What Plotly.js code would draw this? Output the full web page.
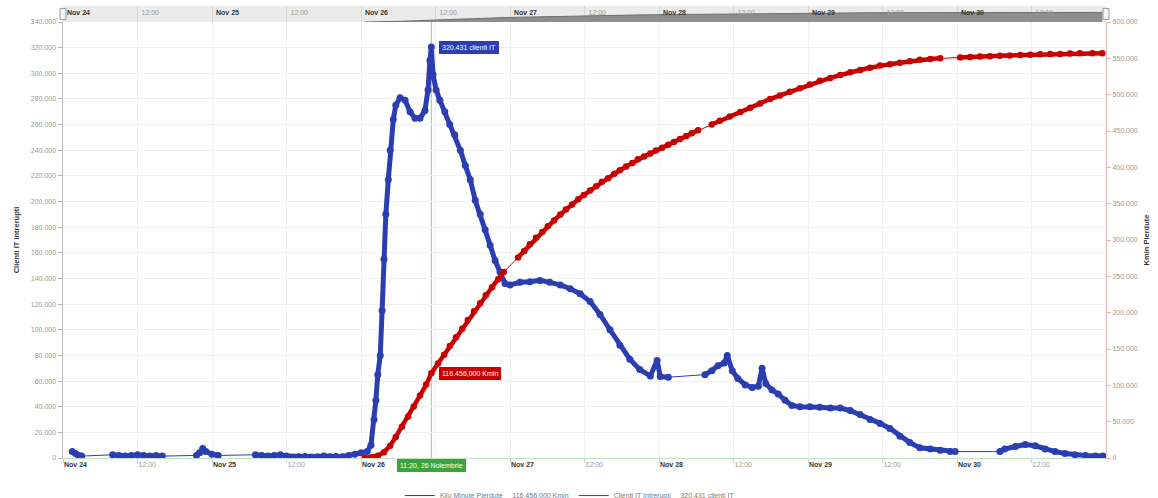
<!DOCTYPE html>
<html><head><meta charset="utf-8">
<script src="https://cdn.plot.ly/plotly-3.0.1.min.js"></script>
<style>html,body{margin:0;padding:0;background:#fff}#chart{width:1158px;height:498px}</style>
</head><body><div id="chart"></div>
<script>
// ---- data (hours from Nov 24 00:00) ----
const tickHours = [0,12,24,36,48,60,72,84,96,108,120,132,144,156];
const tickLabels = ["Nov 24","12:00","Nov 25","12:00","Nov 26","12:00","Nov 27","12:00","Nov 28","12:00","Nov 29","12:00","Nov 30","12:00"];

const clientsName = "Clienti IT întrerupti";
const clientsUnit = "clienti IT";
const kminName = "Kilo Minute Pierdute";
const kminUnit = "Kmin";
const kminAxisTitle = "Kmin Pierdute";
const monthName = "Noiembrie";

const clientsHours = [
 1.5,2,2.5,3,
 8,9,10,11,12,13,14,15,16,
 21.5,22,22.5,23,24,25,
 31,32,33,34,35,36,
 38,39,40,41,42,43,44,45,
 46,47,48,49,
 49.6,50.1,50.4,50.7,51.1,51.4,51.7,52.0,52.4,52.7,53.2,53.6,54.3,55.1,55.9,56.7,57.5,58.3,58.8,59.1,59.33,59.6,60.1,60.7,61.5,62.3,63.1,64.0,64.8,65.6,66.4,67.2,68.0,68.8,69.6,70.4,71.2,72.0,
 73.6,75.2,76.8,78.4,80.1,81.7,83.3,84.9,86.5,88.1,89.7,91.3,92.9,94.6,95.7,96.2,97.5,
 103.4,104.5,105.5,106.5,107.0,107.8,108.7,109.9,111.0,112.0,112.6,113.2,114.2,115.2,116.3,117.4,118.7,120.3,121.9,123.6,125.2,126.8,128.4,130.0,131.6,133.2,134.8,136.4,138.0,139.7,141.3,142.9,143.7,
 150.9,151.7,153.4,155.0,156.6,158.2,159.8,161.4,163.0,164.7,166.3,167.5
];
const clientsValues = [
 5000,3500,2000,1500,
 2500,2000,1500,2000,2500,2000,1500,2000,1500,
 2000,4000,7500,5000,3000,2000,
 2500,2000,1500,2000,2500,1500,
 1000,1200,800,1000,1500,1000,1200,1000,
 2000,3000,4000,5000,
 10000,30000,45000,65000,80000,115000,155000,190000,217000,240000,264000,275000,281000,279000,270000,265000,265000,271000,287000,310000,320431,299000,287000,279000,270000,260000,252000,240000,228000,217000,201000,190000,178000,166000,154000,145000,136000,135000,
 137000,137500,138500,137000,135000,132000,128000,122000,112000,100000,88000,77000,69000,64000,76000,63500,63000,
 65000,68000,72000,74000,80000,68000,62000,57000,55000,56000,70000,58000,53000,50000,45000,41000,40000,40000,39500,39000,39000,37000,34000,30000,27000,23000,17000,12000,8000,7000,6000,5000,5000,
 5000,7000,9000,10500,9500,7000,5000,3500,2500,2000,1500,1500
];

const kminHours = [
 48.6,49.8,50.7,51.7,52.7,53.6,54.6,55.6,56.5,57.5,58.5,59.33,60.4,61.4,62.3,63.3,64.3,65.2,66.2,67.2,68.1,69.1,70.1,71.0,
 73.3,74.3,75.2,76.2,77.2,78.1,79.1,80.1,81.0,82.0,83.0,83.9,84.9,85.9,86.8,87.8,88.8,89.7,90.7,91.7,92.6,93.6,94.6,95.5,96.5,97.5,98.4,99.4,100.4,101.3,102.3,
 104.5,105.8,107.4,109.1,110.7,112.3,113.9,115.5,117.1,118.7,120.3,121.9,123.6,125.2,126.8,128.4,130.0,131.6,133.2,134.8,136.4,138.0,139.7,141.3,
 144.5,146.1,147.7,149.3,150.9,152.5,154.2,155.8,157.4,159.0,160.6,162.2,163.8,165.8,167.4
];
const kminValues = [
 0,1000,3000,8000,17000,29000,43000,57000,71000,86000,101000,116456,130000,142000,154000,166000,178000,190000,202000,213000,224000,235000,246000,256000,
 276000,285000,294000,303000,311000,319000,327000,335000,342000,349000,356000,362000,368000,374000,380000,385000,391000,396000,401000,406000,411000,415000,419000,423000,427000,431000,435000,439000,443000,447000,451000,
 459000,464000,470000,476000,482000,488000,494000,499000,504000,509000,514000,519000,523000,527000,531000,534000,537000,540000,542000,544000,546000,548000,549000,550000,
 551000,552000,552500,553000,553500,554000,554500,555000,555500,556000,556000,556500,557000,557000,557000
];

// ---- helpers ----
const BLUE = '#2b3eb1', RED = '#c90000', GREEN = '#3aa53a';
function withGaps(hs, vs, maxGap){
  const x=[], y=[];
  for(let i=0;i<hs.length;i++){
    if(i>0 && hs[i]-hs[i-1] > maxGap){ x.push(null); y.push(null); }
    x.push(hs[i]); y.push(vs[i]);
  }
  return {x, y};
}
function fmtInt(n){
  const s = String(Math.round(n));
  return s.replace(/\B(?=(\d{3})+(?!\d))/g, '.');
}
const peakVal = Math.max(...clientsValues);
const peakH = clientsHours[clientsValues.indexOf(peakVal)];
const kminAtPeak = kminValues[kminHours.indexOf(peakH)];
const dayNum = 24 + Math.floor(peakH/24);
const remH = peakH - Math.floor(peakH/24)*24;
let hh = Math.floor(remH), mm = Math.round((remH-hh)*60);
if(mm===60){hh+=1;mm=0;}
const timeLabel = String(hh).padStart(2,'0') + ':' + String(mm).padStart(2,'0') + ', ' + dayNum + ' ' + monthName;
const kminLabel = fmtInt(kminAtPeak) + ',000 ' + kminUnit;
const clientsLabel = fmtInt(peakVal) + ' ' + clientsUnit;
const sp = '\u00a0\u00a0\u00a0\u00a0\u00a0';

const styleTick = t => t.startsWith('Nov') ? '<span style="color:#333"><b>'+t+'</b></span>' : t;
const navTickText = tickLabels.map(styleTick);
// bottom axis: the crosshair label box hides the tick label under it
const bottomTickText = tickLabels.map((t,i) => (tickHours[i] > peakH - 1 && tickHours[i] < peakH + 6) ? '' : styleTick(t));

const blueG = withGaps(clientsHours, clientsValues, 2.0);
const redG = withGaps(kminHours, kminValues, 2.0);

const traces = [
  {x:kminHours, y:kminValues, xaxis:'x', yaxis:'y2', type:'scatter', mode:'lines',
   line:{color:RED, width:1}, name: kminName + sp + kminLabel, hoverinfo:'skip'},
  {x:redG.x, y:redG.y, xaxis:'x', yaxis:'y2', type:'scatter', mode:'lines+markers', connectgaps:false,
   line:{color:RED, width:4.5}, marker:{color:RED, size:6.5}, showlegend:false, hoverinfo:'skip'},
  {x:clientsHours, y:clientsValues, xaxis:'x', yaxis:'y', type:'scatter', mode:'lines',
   line:{color:BLUE, width:1}, name: clientsName + sp + clientsLabel, hoverinfo:'skip'},
  {x:blueG.x, y:blueG.y, xaxis:'x', yaxis:'y', type:'scatter', mode:'lines+markers', connectgaps:false,
   line:{color:BLUE, width:5}, marker:{color:BLUE, size:7}, showlegend:false, hoverinfo:'skip'},
  {x:kminHours, y:kminValues, xaxis:'x2', yaxis:'y3', type:'scatter', mode:'lines', fill:'tozeroy',
   fillcolor:'#8e8e8e', line:{color:'#6e6e6e', width:1}, showlegend:false, hoverinfo:'skip'}
];

const mainTop = 0.9646;
const layout = {
  width:1158, height:498,
  margin:{l:63, r:52, t:6, b:40, autoexpand:false},
  paper_bgcolor:'#ffffff', plot_bgcolor:'#ffffff',
  separators:',.',
  hovermode:false,
  font:{family:'Liberation Sans, Arial, sans-serif', size:7, color:'#666'},
  showlegend:true,
  legend:{orientation:'h', x:0.486, xanchor:'center', xref:'paper', yref:'container', y:0.034, yanchor:'top',
          font:{size:7, color:'#777'}, bgcolor:'rgba(0,0,0,0)', traceorder:'normal'},
  xaxis:{domain:[0,1], anchor:'y', range:[0,168], tickmode:'array', tickvals:tickHours, ticktext:bottomTickText,
         ticklabelposition:'outside right', ticks:'outside', ticklen:4, tickcolor:'#d0d0d0',
         showgrid:true, gridcolor:'#f0f0f0', showline:true, linecolor:'#c3e2c3', linewidth:1,
         zeroline:false, tickfont:{size:7, color:'#999'}, fixedrange:true, automargin:false},
  yaxis:{domain:[0,mainTop], anchor:'x', range:[0,340000], tick0:0, dtick:20000, tickformat:',d',
         ticks:'outside', ticklen:4, tickcolor:'#bbb', showline:true, linecolor:'#bbbbbb', linewidth:1.5,
         showgrid:true, gridcolor:'#f0f0f0', zeroline:false, tickfont:{size:7, color:'#999'},
         title:{text:'<b>'+clientsName+'</b>', font:{size:7.5, color:'#333'}, standoff:10}, automargin:false},
  yaxis2:{overlaying:'y', side:'right', anchor:'x', range:[0,600000], tick0:0, dtick:50000, tickformat:',d',
         ticks:'outside', ticklen:4, tickcolor:'#e0b0b0', showline:true, linecolor:'#e8b5b5', linewidth:1,
         showgrid:false, zeroline:false, tickfont:{size:7, color:'#999'},
         title:{text:'<b>'+kminAxisTitle+'</b>', font:{size:7.5, color:'#333'}, standoff:6}, automargin:false},
  xaxis2:{domain:[0,1], anchor:'y3', range:[0,168], tickmode:'array', tickvals:tickHours, ticktext:navTickText,
         ticklabelposition:'inside right', ticklabelshift:4, ticks:'', showgrid:true, gridcolor:'#d6d6d6', showline:false,
         zeroline:false, tickfont:{size:7, color:'#999'}, fixedrange:true},
  yaxis3:{domain:[mainTop,1], anchor:'x2', range:[0,930000], visible:false, fixedrange:true},
  shapes:[
    {type:'rect', xref:'x2 domain', yref:'y3 domain', x0:0, x1:1, y0:0, y1:1,
     fillcolor:'#ebebeb', line:{width:0}, layer:'below'},
    {type:'line', xref:'x', yref:'paper', x0:peakH, x1:peakH, y0:0, y1:mainTop,
     line:{color:'#8ccf8c', width:1}, layer:'below'},
    {type:'rect', xref:'x2 domain', yref:'y3 domain', xsizemode:'pixel', xanchor:0, x0:-3, x1:3, y0:0.15, y1:0.85,
     fillcolor:'#f4f4f4', line:{color:'#999', width:1}},
    {type:'rect', xref:'x2 domain', yref:'y3 domain', xsizemode:'pixel', xanchor:1, x0:-3, x1:3, y0:0.15, y1:0.85,
     fillcolor:'#f4f4f4', line:{color:'#999', width:1}}
  ],
  annotations:[
    {xref:'x', yref:'y', x:peakH, y:peakVal, text:clientsLabel, showarrow:false, xanchor:'left', xshift:8,
     bgcolor:BLUE, bordercolor:BLUE, borderpad:2, font:{size:7, color:'#fff'}},
    {xref:'x', yref:'y2', x:peakH, y:kminAtPeak, text:kminLabel, showarrow:false, xanchor:'left', xshift:8,
     bgcolor:RED, bordercolor:RED, borderpad:2, font:{size:7, color:'#fff'}},
    {xref:'x', yref:'paper', x:peakH, y:0, text:timeLabel, showarrow:false, xanchor:'center', yanchor:'top', yshift:-1,
     bgcolor:GREEN, bordercolor:GREEN, borderpad:2, font:{size:7, color:'#fff'}}
  ]
};

Plotly.newPlot('chart', traces, layout, {displayModeBar:false, staticPlot:true});
</script>
</body></html>
